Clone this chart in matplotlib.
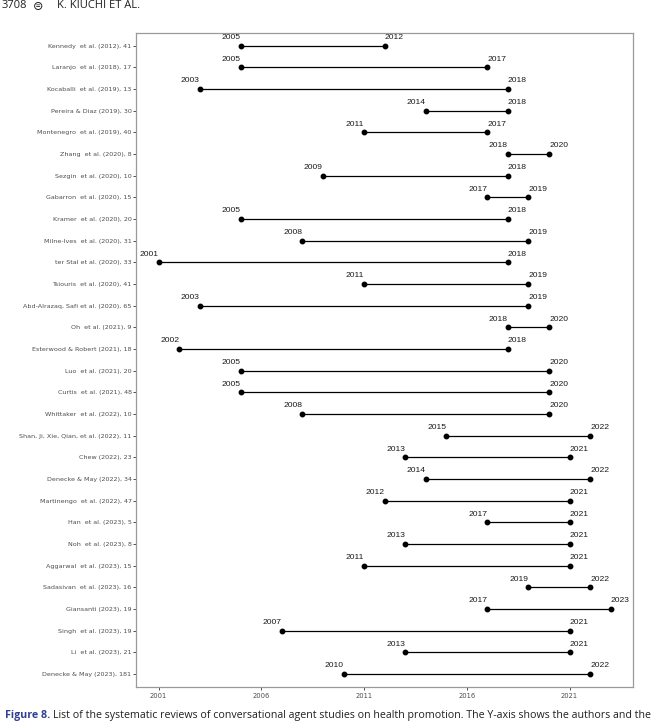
import matplotlib
matplotlib.use("Agg")
import matplotlib.pyplot as plt

# reviews, top to bottom: label, first year covered, last year covered
labels = [
    "Kennedy  et al. (2012), 41",
    "Laranjo  et al. (2018), 17",
    "Kocaballi  et al. (2019), 13",
    "Pereira & Diaz (2019), 30",
    "Montenegro  et al. (2019), 40",
    "Zhang  et al. (2020), 8",
    "Sezgin  et al. (2020), 10",
    "Gabarron  et al. (2020), 15",
    "Kramer  et al. (2020), 20",
    "Milne-Ives  et al. (2020), 31",
    "ter Stal et al. (2020), 33",
    "Tsiouris  et al. (2020), 41",
    "Abd-Alrazaq, Safi et al. (2020), 65",
    "Oh  et al. (2021), 9",
    "Esterwood & Robert (2021), 18",
    "Luo  et al. (2021), 20",
    "Curtis  et al. (2021), 48",
    "Whittaker  et al. (2022), 10",
    "Shan, Ji, Xie, Qian, et al. (2022), 11",
    "Chew (2022), 23",
    "Denecke & May (2022), 34",
    "Martinengo  et al. (2022), 47",
    "Han  et al. (2023), 5",
    "Noh  et al. (2023), 8",
    "Aggarwal  et al. (2023), 15",
    "Sadasivan  et al. (2023), 16",
    "Giansanti (2023), 19",
    "Singh  et al. (2023), 19",
    "Li  et al. (2023), 21",
    "Denecke & May (2023), 181",
]
start = [2005, 2005, 2003, 2014, 2011, 2018, 2009, 2017, 2005, 2008,
         2001, 2011, 2003, 2018, 2002, 2005, 2005, 2008, 2015, 2013,
         2014, 2012, 2017, 2013, 2011, 2019, 2017, 2007, 2013, 2010]
end = [2012, 2017, 2018, 2018, 2017, 2020, 2018, 2019, 2018, 2019,
       2018, 2019, 2019, 2020, 2018, 2020, 2020, 2020, 2022, 2021,
       2022, 2021, 2021, 2021, 2021, 2022, 2023, 2021, 2021, 2022]
xticks = [2001, 2006, 2011, 2016, 2021]

W, H = 660, 722
fig = plt.figure(figsize=(W / 100, H / 100), dpi=100)
ax = fig.add_axes([136 / W, 1 - 687 / H, (633.3 - 136) / W, (687 - 32.7) / H])

plt.rcParams['font.family'] = ['Liberation Sans', 'DejaVu Sans']

n = len(labels)
ys = list(range(n))
for y, s, e in zip(ys, start, end):
    ax.plot([s, e], [y, y], color='black', lw=0.9, solid_capstyle='butt')
    ax.plot([s, e], [y, y], 'o', color='black', ms=3.2)
    ax.annotate(str(s), (s, y), xytext=(0, 3.3), textcoords='offset points',
                ha='right', va='bottom', fontsize=6.1, color='#1a1a1a')
    ax.annotate(str(e), (e, y), xytext=(0, 3.3), textcoords='offset points',
                ha='left', va='bottom', fontsize=6.1, color='#1a1a1a')

lo, hi = min(start), max(end)
pad = (hi - lo) * 0.05
ax.set_xlim(lo - pad, hi + pad)
ax.set_ylim(n - 1 + 0.6, -0.6)
ax.set_yticks(ys)
ax.set_yticklabels(labels)
ax.set_xticks(xticks)
ax.set_xticklabels([str(t) for t in xticks])
ax.tick_params(axis='y', labelsize=4.6, labelcolor='#4d4d4d', length=2.2,
               width=0.6, color='#333333', pad=1)
ax.tick_params(axis='x', labelsize=4.9, labelcolor='#4d4d4d', length=2.2,
               width=0.6, color='#333333', pad=2)
for sp in ax.spines.values():
    sp.set_color('#9a9a9a')
    sp.set_linewidth(0.9)

# running header at the top of the page
fig.text(2 / W, 1.0, "3708", fontsize=8, family='Open Sans',
         color='#231f20', va='top')
fig.text(33 / W, 1.0, "\u229c", fontsize=9, family='DejaVu Sans',
         color='#231f20', va='top')
fig.text(57 / W, 1.0, "K. KIUCHI ET AL.", fontsize=8, family='Open Sans',
         color='#231f20', va='top')

# caption at the bottom of the page
cap_y = 1 / H
t1 = fig.text(5 / W, cap_y, "Figure 8.", fontsize=7.7, family='Open Sans',
              weight='bold', color='#2e3f94', va='bottom')
fig.canvas.draw()
bb = t1.get_window_extent()
fig.text((bb.x1 + 3) / W, cap_y,
         "List of the systematic reviews of conversational agent studies on health promotion. "
         "The Y-axis shows the authors and the",
         fontsize=7.7, family='Open Sans', color='#231f20', va='bottom')

fig.savefig("out.png", dpi=100)
